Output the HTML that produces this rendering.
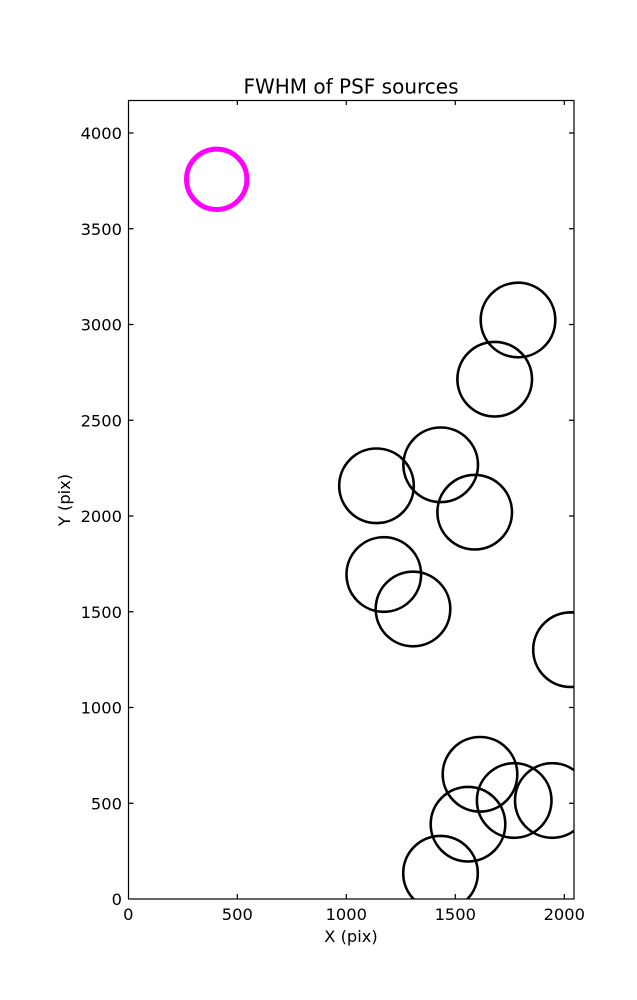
<!DOCTYPE html>
<html><head><meta charset="utf-8"><style>
html,body{margin:0;padding:0;background:#fff;}
svg{display:block;}
text{font-family:"DejaVu Sans","Liberation Sans",sans-serif;font-size:16.3px;fill:#000;}
</style></head><body>
<svg width="637" height="1000" viewBox="0 0 637 1000" xmlns="http://www.w3.org/2000/svg">
<rect width="637" height="1000" fill="#fff"/>
<defs><clipPath id="ax"><rect x="128.5" y="100" width="445.5" height="799"/></clipPath></defs>
<g clip-path="url(#ax)" fill="none" stroke="#000" stroke-width="2.6">
<circle cx="518" cy="320" r="37.3"/>
<circle cx="494.7" cy="379.2" r="37.3"/>
<circle cx="376.5" cy="485.8" r="37.3"/>
<circle cx="440.7" cy="464.8" r="37.3"/>
<circle cx="474.7" cy="512.2" r="37.3"/>
<circle cx="383.8" cy="574.5" r="37.3"/>
<circle cx="413" cy="609" r="37.3"/>
<circle cx="570.5" cy="649.7" r="37.3"/>
<circle cx="480" cy="774.3" r="37.3"/>
<circle cx="514.2" cy="800.5" r="37.3"/>
<circle cx="552.3" cy="800.5" r="37.3"/>
<circle cx="468" cy="824.2" r="37.3"/>
<circle cx="440.5" cy="873.2" r="37.3"/>
<circle cx="216.7" cy="179.3" r="30.2" stroke="#ff00ff" stroke-width="5"/>
</g>
<g stroke="#000" stroke-width="1.2" fill="none">
<rect x="128.5" y="100.5" width="445.5" height="798.5"/>
<path d="M237.3 899v-5M346.3 899v-5M455.3 899v-5M564.3 899v-5M237.3 100v5M346.3 100v5M455.3 100v5M564.3 100v5"/>
<path d="M128.5 803.25h5M128.5 707.5h5M128.5 611.75h5M128.5 516h5M128.5 420.25h5M128.5 324.5h5M128.5 228.75h5M128.5 133h5M574 803.25h-5M574 707.5h-5M574 611.75h-5M574 516h-5M574 420.25h-5M574 324.5h-5M574 228.75h-5M574 133h-5"/>
</g>
<text x="351" y="93.5" text-anchor="middle" style="font-size:20px">FWHM of PSF sources</text>
<g text-anchor="middle">
<text x="128.3" y="920">0</text>
<text x="237.3" y="920">500</text>
<text x="346.3" y="920">1000</text>
<text x="455.3" y="920">1500</text>
<text x="564.3" y="920">2000</text>
<text x="351" y="942">X (pix)</text>
</g>
<g text-anchor="end">
<text x="122" y="905">0</text>
<text x="122" y="809.25">500</text>
<text x="122" y="713.5">1000</text>
<text x="122" y="617.75">1500</text>
<text x="122" y="522">2000</text>
<text x="122" y="426.25">2500</text>
<text x="122" y="330.5">3000</text>
<text x="122" y="234.75">3500</text>
<text x="122" y="139">4000</text>
</g>
<text x="0" y="0" text-anchor="middle" transform="translate(70,500) rotate(-90)">Y (pix)</text>
</svg>
</body></html>
